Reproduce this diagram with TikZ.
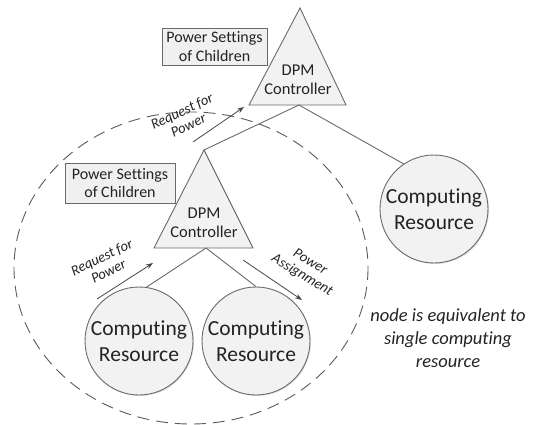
\documentclass[tikz,border=0pt]{standalone}
\usepackage{fontspec}
\setmainfont[Ligatures=NoCommon]{Carlito}
\usetikzlibrary{shadows,arrows.meta}
\definecolor{edge}{RGB}{105,105,105}
\definecolor{ink}{RGB}{35,35,35}
\definecolor{paper}{RGB}{242,242,242}
\definecolor{boxfill}{RGB}{240,240,240}
\begin{document}
\begin{tikzpicture}[x=1pt,y=-1pt,
  tri/.style={draw=edge,fill=paper,line width=0.9pt,line join=miter},
  ctrl/.style={align=center,text=ink,font=\fontsize{16.5}{19}\selectfont,inner sep=0pt},
  res/.style={circle,draw=edge,fill=paper,line width=0.9pt,minimum size=108pt,inner sep=0pt,
    align=center,text=ink,font=\fontsize{21.5}{26}\selectfont,
    drop shadow={shadow xshift=1pt,shadow yshift=-1pt,opacity=0.25}},
  setbox/.style={draw=edge,fill=boxfill,line width=0.8pt,inner sep=0pt,align=center,text=ink,
    font=\fontsize{16}{18.5}\selectfont,
    drop shadow={shadow xshift=1pt,shadow yshift=-1pt,opacity=0.3}},
  link/.style={draw=edge,line width=0.9pt},
  flow/.style={draw=ink!85,line width=0.8pt,-{Stealth[length=7pt,width=5pt]}},
  flowlabel/.style={align=center,text=ink,inner sep=0pt,font=\fontsize{14.5}{15.5}\selectfont\itshape},
  group/.style={draw=ink!75,line width=0.9pt,dash pattern=on 12pt off 7pt},
]
\path[use as bounding box] (0,0) rectangle (543,425);

% dashed boundary of the aggregated node
\draw[group] (191,268) ellipse [x radius=177, y radius=156];

% upper controller
\coordinate (tA) at (300,8);
\coordinate (tL) at (249,105);
\coordinate (tR) at (346,105);
\coordinate (tB) at (299,105);
\draw[tri] (tA) -- (tR) -- (tL) -- cycle;
\node[ctrl] (tC) at (298,80) {DPM\\Controller};

% lower controller
\coordinate (lA) at (204,150);
\coordinate (lL) at (154,248);
\coordinate (lR) at (253,248);
\coordinate (lB) at (206,248);
\draw[tri] (lA) -- (lR) -- (lL) -- cycle;
\node[ctrl] (lC) at (204,223) {DPM\\Controller};

% computing resources
\node[res] (rc) at (434,209) {Computing\\Resource};
\node[res] (c1) at (139,341) {Computing\\Resource};
\node[res] (c2) at (256,341) {Computing\\Resource};

% tree links
\draw[link] (tB) -- (lA);
\draw[link] (tB) -- (rc.124);
\draw[link] (lB) -- (c1.82);
\draw[link] (lB) -- (c2.90);

% power settings boxes
\node[setbox,minimum width=105pt,minimum height=37pt] (ps1) at (214.5,46.5) {Power Settings\\of Children};
\node[setbox,minimum width=110pt,minimum height=40pt] (ps2) at (120,183) {Power Settings\\of Children};

% request / assignment arrows
\coordinate (u1) at (193,142);
\coordinate (u2) at (244,107);
\draw[flow] (u1) -- (u2);
\node[flowlabel,rotate=25] (uq) at (185,118) {Request for\\Power};

\coordinate (r1) at (97,299);
\coordinate (r2) at (153,263);
\draw[flow] (r1) -- (r2);
\node[flowlabel,rotate=26] (rq) at (105,264) {Request for\\Power};

\coordinate (a1) at (243,260);
\coordinate (a2) at (302,300);
\draw[flow] (a1) -- (a2);
\node[flowlabel,rotate=-31] (aq) at (306,269) {Power\\Assignment};

% note
\node[align=center,text=ink,inner sep=0pt,font=\fontsize{18.5}{23}\selectfont\itshape] (note) at (448,338)
  {node is equivalent to\\single computing\\resource};
\end{tikzpicture}
\end{document}
